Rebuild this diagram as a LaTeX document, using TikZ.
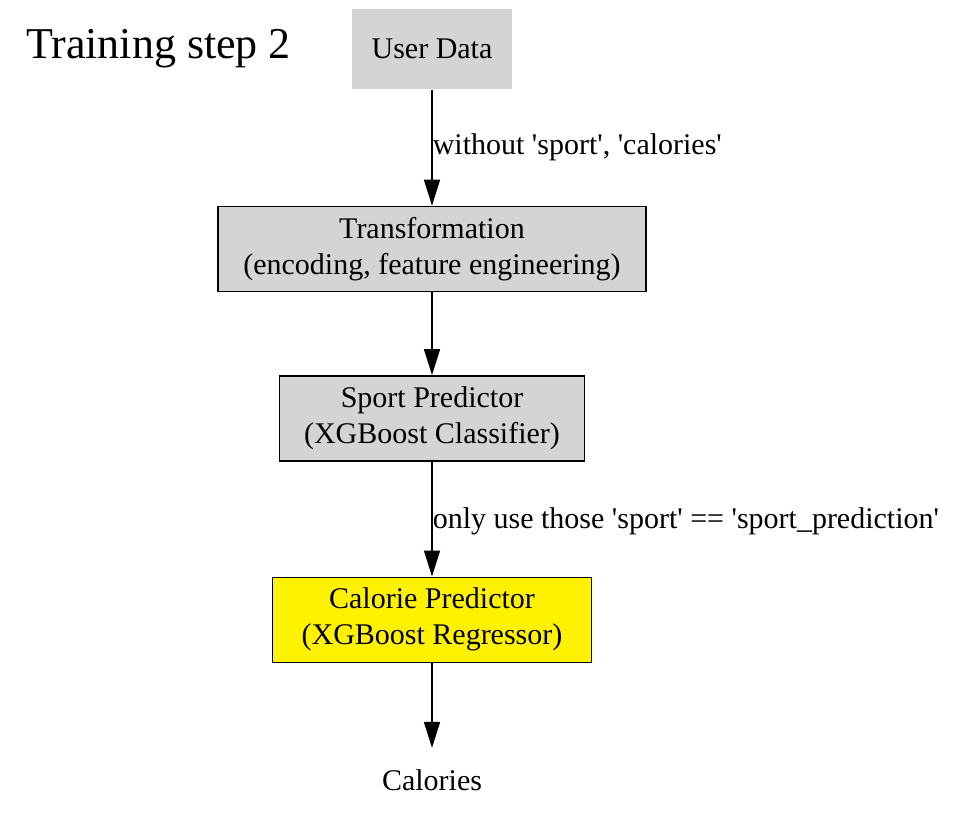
\documentclass[tikz,border=0pt]{standalone}
\usepackage{fontspec}
\setmainfont{Liberation Serif}
\usetikzlibrary{arrows.meta, positioning}

\tikzset{
	stage/.style={draw, line width=0.7pt, fill=black!17, align=center, minimum height=42.5pt, inner sep=0pt, font=\fontsize{15}{18}\selectfont},
	flow/.style={-{Triangle[length=13pt, width=8pt]}, line width=0.8pt},
	edgelabel/.style={right, inner sep=0pt, font=\fontsize{15}{18}\selectfont}
}
\newcommand{\sq}{\textquotesingle}

\begin{document}
\begin{tikzpicture}[x=0.5pt, y=-0.5pt, node distance=58pt]
	\useasboundingbox (0,0) rectangle (960,831);
	\node (user_data) [stage, draw=none, minimum width=80pt, minimum height=40pt] at (432,49) {User Data};
	\node (title) [left=30pt of user_data, inner sep=0pt, font=\fontsize{22}{24}\selectfont] {Training step 2};
	\node (transformation) [stage, minimum width=214pt, below=of user_data] {Transformation\\(encoding, feature engineering)};
	\node (sport_predictor) [stage, minimum width=152.5pt, below=41.5pt of transformation] {Sport Predictor\\(XGBoost Classifier)};
	\node (calorie_predictor) [stage, fill=yellow, minimum width=159.5pt, below=57.5pt of sport_predictor] {Calorie Predictor\\(XGBoost Regressor)};
	\node (calories) [below=42.5pt of calorie_predictor, minimum height=32pt, inner sep=0pt, font=\fontsize{15}{18}\selectfont] {Calories};

	\draw [flow] (user_data) -- node [edgelabel] {without \sq sport\sq, \sq calories\sq} (transformation);
	\draw [flow] (transformation) -- (sport_predictor);
	\draw [flow] (sport_predictor) -- node [edgelabel, yshift=-1pt] {only use those \sq sport\sq{} == \sq sport\_prediction\sq} (calorie_predictor);
	\draw [flow] (calorie_predictor) -- (calories);
\end{tikzpicture}
\end{document}
